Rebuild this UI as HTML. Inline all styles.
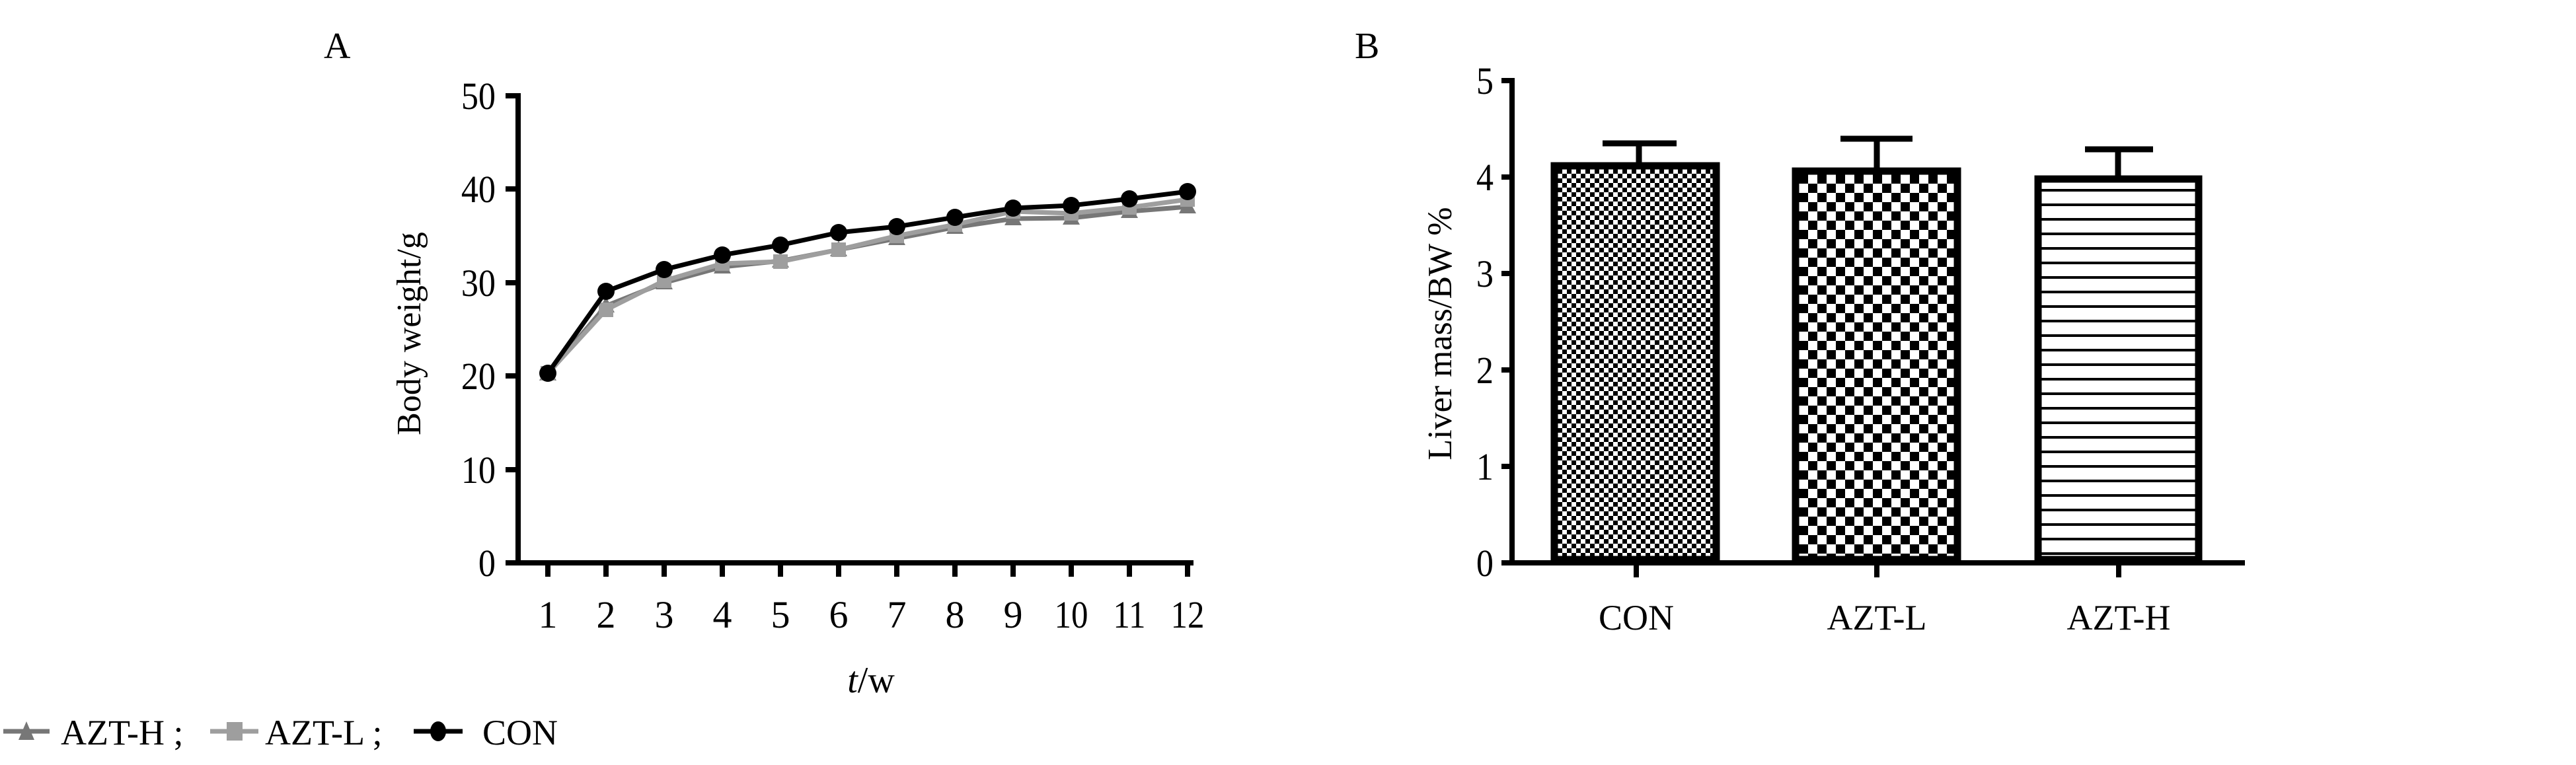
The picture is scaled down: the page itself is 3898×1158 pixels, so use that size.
<!DOCTYPE html>
<html><head><meta charset="utf-8"><style>
html,body{margin:0;padding:0;background:#fff}
svg{display:block}
text{font-family:"Liberation Serif",serif;fill:#000}
</style></head><body>
<svg width="3898" height="1158" viewBox="0 0 3898 1158" xmlns="http://www.w3.org/2000/svg">
<defs>
<pattern id="fine" width="14" height="14" patternUnits="userSpaceOnUse" x="2357" y="256">
<rect width="14" height="14" fill="#fff"/><rect width="7" height="7" fill="#000"/><rect x="7" y="7" width="7" height="7" fill="#000"/>
</pattern>
<pattern id="coarse" width="28" height="28" patternUnits="userSpaceOnUse" x="2722" y="264">
<rect width="28" height="28" fill="#fff"/><rect width="14" height="14" fill="#000"/><rect x="14" y="14" width="14" height="14" fill="#000"/>
</pattern>
<pattern id="hlines" width="22" height="22" patternUnits="userSpaceOnUse" x="0" y="276">
<rect width="22" height="22" fill="#fff"/><rect y="10" width="22" height="4" fill="#000"/>
</pattern>
</defs>

<!-- Panel A -->
<text x="490" y="88" font-size="56">A</text>
<g stroke="#000" stroke-width="8" fill="none">
<line x1="784" y1="141" x2="784" y2="856"/>
<line x1="765" y1="852" x2="1806" y2="852"/>
<line x1="765" y1="145" x2="784" y2="145"/>
<line x1="765" y1="286" x2="784" y2="286"/>
<line x1="765" y1="428" x2="784" y2="428"/>
<line x1="765" y1="569" x2="784" y2="569"/>
<line x1="765" y1="711" x2="784" y2="711"/>
</g>
<g stroke="#000" stroke-width="8">
<line x1="829" y1="852" x2="829" y2="873"/><line x1="917" y1="852" x2="917" y2="873"/>
<line x1="1005" y1="852" x2="1005" y2="873"/><line x1="1093" y1="852" x2="1093" y2="873"/>
<line x1="1181" y1="852" x2="1181" y2="873"/><line x1="1269" y1="852" x2="1269" y2="873"/>
<line x1="1357" y1="852" x2="1357" y2="873"/><line x1="1445" y1="852" x2="1445" y2="873"/>
<line x1="1533" y1="852" x2="1533" y2="873"/><line x1="1621" y1="852" x2="1621" y2="873"/>
<line x1="1709" y1="852" x2="1709" y2="873"/><line x1="1797" y1="852" x2="1797" y2="873"/>
</g>
<g font-size="58" text-anchor="end">
<text x="750" y="165" transform="translate(750 0) scale(0.9 1) translate(-750 0)">50</text>
<text x="750" y="306" transform="translate(750 0) scale(0.9 1) translate(-750 0)">40</text>
<text x="750" y="448" transform="translate(750 0) scale(0.9 1) translate(-750 0)">30</text>
<text x="750" y="589" transform="translate(750 0) scale(0.9 1) translate(-750 0)">20</text>
<text x="750" y="731" transform="translate(750 0) scale(0.9 1) translate(-750 0)">10</text>
<text x="750" y="872" transform="translate(750 0) scale(0.9 1) translate(-750 0)">0</text>
</g>
<g font-size="58" text-anchor="middle">
<text x="829" y="950">1</text><text x="917" y="950">2</text><text x="1005" y="950">3</text>
<text x="1093" y="950">4</text><text x="1181" y="950">5</text><text x="1269" y="950">6</text>
<text x="1357" y="950">7</text><text x="1445" y="950">8</text><text x="1533" y="950">9</text>
<text x="1621" y="950" transform="translate(1621 0) scale(0.88 1) translate(-1621 0)">10</text>
<text x="1709" y="950" transform="translate(1709 0) scale(0.88 1) translate(-1709 0)">11</text>
<text x="1797" y="950" transform="translate(1797 0) scale(0.88 1) translate(-1797 0)">12</text>
</g>
<text x="1318" y="1048" font-size="56" text-anchor="middle"><tspan font-style="italic">t</tspan>/w</text>
<text transform="translate(636 505) rotate(-90)" font-size="52" text-anchor="middle">Body weight/g</text>

<!-- series -->
<polyline fill="none" stroke="#777" stroke-width="7" points="829,566 917,463 1005,428 1093,404 1181,395 1269,378 1357,361 1445,344 1533,331 1621,330 1709,320 1797,313"/>
<g fill="#777">
<polygon points="829,552 816,576 842,576"/><polygon points="917,449 904,473 930,473"/><polygon points="1005,414 992,438 1018,438"/><polygon points="1093,390 1080,414 1106,414"/><polygon points="1181,381 1168,405 1194,405"/><polygon points="1269,364 1256,388 1282,388"/><polygon points="1357,347 1344,371 1370,371"/><polygon points="1445,330 1432,354 1458,354"/><polygon points="1533,317 1520,341 1546,341"/><polygon points="1621,316 1608,340 1634,340"/><polygon points="1709,306 1696,330 1722,330"/><polygon points="1797,299 1784,323 1810,323"/>
</g>
<polyline fill="none" stroke="#9e9e9e" stroke-width="7" points="829,565 917,469 1005,425 1093,399 1181,396 1269,378 1357,357 1445,340 1533,320 1621,323 1709,314 1797,302"/>
<g fill="#9e9e9e">
<rect x="818" y="554" width="22" height="22"/><rect x="906" y="458" width="22" height="22"/><rect x="994" y="414" width="22" height="22"/><rect x="1082" y="388" width="22" height="22"/><rect x="1170" y="385" width="22" height="22"/><rect x="1258" y="367" width="22" height="22"/><rect x="1346" y="346" width="22" height="22"/><rect x="1434" y="329" width="22" height="22"/><rect x="1522" y="309" width="22" height="22"/><rect x="1610" y="312" width="22" height="22"/><rect x="1698" y="303" width="22" height="22"/><rect x="1786" y="291" width="22" height="22"/>
</g>
<polyline fill="none" stroke="#000" stroke-width="7" points="829,565 917,441 1005,408 1093,386 1181,371 1269,352 1357,343 1445,329 1533,315 1621,311 1709,301 1797,290"/>
<g fill="#000">
<circle cx="829" cy="565" r="13"/><circle cx="917" cy="441" r="13"/><circle cx="1005" cy="408" r="13"/><circle cx="1093" cy="386" r="13"/><circle cx="1181" cy="371" r="13"/><circle cx="1269" cy="352" r="13"/><circle cx="1357" cy="343" r="13"/><circle cx="1445" cy="329" r="13"/><circle cx="1533" cy="315" r="13"/><circle cx="1621" cy="311" r="13"/><circle cx="1709" cy="301" r="13"/><circle cx="1797" cy="290" r="13"/>
</g>

<!-- legend -->
<line x1="5" y1="1107" x2="75" y2="1107" stroke="#777" stroke-width="7"/>
<polygon points="40,1092 28,1120 52,1120" fill="#777"/>
<text x="92" y="1127" font-size="54">AZT-H ;</text>
<line x1="318" y1="1107" x2="391" y2="1107" stroke="#9e9e9e" stroke-width="7"/>
<rect x="343" y="1093" width="24" height="28" fill="#9e9e9e"/>
<text x="401" y="1127" font-size="54">AZT-L ;</text>
<line x1="626" y1="1107" x2="700" y2="1107" stroke="#000" stroke-width="7"/>
<ellipse cx="663" cy="1107" rx="12" ry="15" fill="#000"/>
<text x="730" y="1127" font-size="54">CON</text>

<!-- Panel B -->
<text x="2050" y="88" font-size="56">B</text>
<g stroke="#000" stroke-width="8" fill="none">
<line x1="2288" y1="118" x2="2288" y2="856"/>
<line x1="2272" y1="852" x2="3397" y2="852"/>
<line x1="2272" y1="122" x2="2288" y2="122"/>
<line x1="2272" y1="268" x2="2288" y2="268"/>
<line x1="2272" y1="414" x2="2288" y2="414"/>
<line x1="2272" y1="560" x2="2288" y2="560"/>
<line x1="2272" y1="706" x2="2288" y2="706"/>
<line x1="2476" y1="852" x2="2476" y2="874"/>
<line x1="2840" y1="852" x2="2840" y2="874"/>
<line x1="3206" y1="852" x2="3206" y2="874"/>
</g>
<g font-size="58" text-anchor="end">
<text x="2260" y="142" transform="translate(2260 0) scale(0.9 1) translate(-2260 0)">5</text>
<text x="2260" y="288" transform="translate(2260 0) scale(0.9 1) translate(-2260 0)">4</text>
<text x="2260" y="434" transform="translate(2260 0) scale(0.9 1) translate(-2260 0)">3</text>
<text x="2260" y="580" transform="translate(2260 0) scale(0.9 1) translate(-2260 0)">2</text>
<text x="2260" y="726" transform="translate(2260 0) scale(0.9 1) translate(-2260 0)">1</text>
<text x="2260" y="872" transform="translate(2260 0) scale(0.9 1) translate(-2260 0)">0</text>
</g>
<text transform="translate(2196 505) rotate(-90)" font-size="52" text-anchor="middle">Liver mass/BW %</text>
<!-- error bars -->
<g stroke="#000" stroke-width="9">
<line x1="2480" y1="220" x2="2480" y2="250"/><line x1="2425" y1="217" x2="2537" y2="217"/>
<line x1="2840" y1="213" x2="2840" y2="258"/><line x1="2785" y1="210" x2="2894" y2="210"/>
<line x1="3205" y1="229" x2="3205" y2="270"/><line x1="3155" y1="226" x2="3258" y2="226"/>
</g>
<g stroke="#000" stroke-width="11">
<rect x="2352" y="251" width="245" height="596" fill="url(#fine)"/>
<rect x="2717" y="259" width="245" height="588" fill="url(#coarse)"/>
<rect x="3084" y="271" width="243" height="576" fill="url(#hlines)"/>
</g>
<g font-size="54" text-anchor="middle">
<text x="2476" y="953">CON</text>
<text x="2840" y="953">AZT-L</text>
<text x="3206" y="953">AZT-H</text>
</g>
</svg>
</body></html>
